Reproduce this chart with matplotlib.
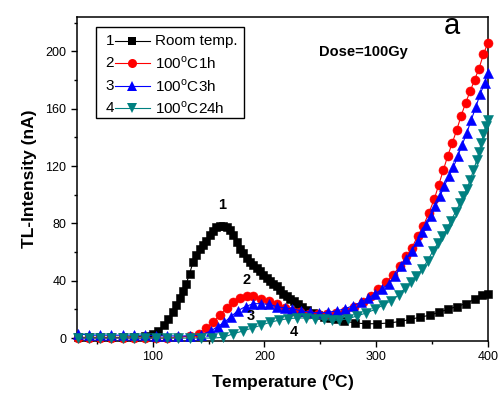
import matplotlib
matplotlib.use("Agg")
import matplotlib.pyplot as plt
from matplotlib.patches import Rectangle
from matplotlib.ticker import MultipleLocator

plt.rcParams['font.family'] = ['Liberation Sans', 'DejaVu Sans']
plt.rcParams['mathtext.fontset'] = 'custom'
plt.rcParams['mathtext.rm'] = 'Liberation Sans'
plt.rcParams['mathtext.bf'] = 'Liberation Sans:bold'

# 1 - room temperature
t_room = [33, 43, 53, 63, 73, 83, 93, 100, 105, 110, 114, 118, 121, 124, 127, 130, 133, 136,
          139, 142, 145, 148, 151, 154, 157, 160, 163, 166, 169, 172, 175, 178, 181, 184, 187,
          190, 193, 196, 199, 202, 205, 208, 211, 214, 217, 220, 223, 226, 230, 234, 238, 243,
          248, 253, 259, 265, 271, 281, 291, 301, 311, 321, 330, 339, 348, 356, 364, 372, 380,
          388, 395, 400]
i_room = [0.5, 0.5, 0.5, 0.5, 0.5, 1, 1.5, 3, 5, 9, 13, 18, 23, 28, 33, 38, 45, 53,
          58, 62, 65, 68, 72, 75, 77.5, 78.5, 78.5, 77.5, 75.5, 72, 67, 62, 59, 56, 53,
          51, 49, 47, 44, 42, 40, 38, 36, 33.5, 31, 29, 27.5, 26, 24, 22, 19.5, 17.5,
          16, 15, 14, 13, 12, 10.5, 10, 10, 10.5, 11.5, 13, 14.5, 16, 18, 20, 22, 24,
          27, 30, 31]

# 2 - 100C 1h
t_1h = [33, 43, 53, 63, 73, 83, 93, 103, 113, 123, 133, 141, 148, 154, 160, 166, 172, 178,
        184, 190, 197, 204, 211, 218, 225, 232, 240, 248, 256, 264, 272, 280, 288, 295, 302,
        309, 315, 321, 327, 332, 337, 342, 347, 352, 356, 360, 364, 368, 372, 376, 380, 384,
        388, 392, 396, 400]
i_1h = [0, 0, 0, 0, 0, 0, 0, 0, 0, 0.5, 1.5, 3, 7, 11, 16, 21, 25, 28,
        29.5, 29, 27.5, 26, 24, 21, 19, 18, 17, 16.5, 16.5, 17.5, 19, 22, 25, 29, 34,
        39, 44, 50, 57, 63, 71, 78, 87, 97, 107, 117, 127, 136, 145, 155, 164, 172,
        180, 188, 198, 206]

# 3 - 100C 3h
t_3h = [33, 43, 53, 63, 73, 83, 93, 103, 113, 123, 133, 143, 152, 158, 164, 170, 176, 183,
        190, 197, 204, 211, 218, 225, 233, 241, 249, 257, 265, 272, 279, 286, 293, 299, 305,
        311, 317, 322, 327, 332, 337, 341, 345, 349, 353, 357, 361, 365, 369, 373, 377, 381,
        385, 389, 393, 397, 400]
i_3h = [3, 2, 2, 2, 2, 2, 2, 1.5, 1.5, 1.5, 1.5, 2, 5, 8, 11, 15, 19, 22,
        24, 24, 23.5, 22, 21, 20.5, 19, 18, 17.5, 18, 19, 20.5, 22.5, 25, 28, 31, 34,
        38, 43, 50, 55, 61, 68, 74, 79, 85, 92, 99, 106, 113, 119, 127, 135, 143,
        152, 161, 170, 178, 185]

# 4 - 100C 24h
t_24h = [33, 43, 53, 63, 73, 83, 93, 103, 113, 123, 133, 143, 153, 163, 172, 181, 189, 197,
         205, 213, 221, 229, 237, 245, 253, 260, 267, 275, 283, 291, 299, 306, 313, 320, 326,
         331, 336, 341, 346, 351, 355, 359, 363, 367, 371, 375, 378, 381, 384, 387, 390, 392,
         394, 396, 398, 400]
i_24h = [0, 0, 0, 0, 0, 0, 0, 0, 0, 0, 0, 0, 0, 0.5, 3, 5, 7, 9,
         11, 12.5, 13.5, 14, 14, 13.5, 13, 12.5, 12.5, 13.5, 15.5, 17.5, 20, 23, 26, 30, 35,
         39, 43, 48, 54, 61, 66, 71, 76, 82, 88, 94, 99, 104, 110, 117, 124, 130,
         136, 142, 148, 152]

series = [
    ("1", "Room temp.", t_room, i_room, "black", "s", 5.5),
    ("2", r"100$^{\mathrm{o}}$C1h", t_1h, i_1h, "#ff0000", "o", 6.5),
    ("3", r"100$^{\mathrm{o}}$C3h", t_3h, i_3h, "#0000ff", "^", 7.0),
    ("4", r"100$^{\mathrm{o}}$C24h", t_24h, i_24h, "#008080", "v", 7.0),
]

# curve number labels (temperature, intensity)
curve_labels = [("1", 162, 93), ("2", 184, 40.5), ("3", 188, 15.5), ("4", 226, 4)]

fig = plt.figure(figsize=(5.02, 4.03), dpi=100)
ax = fig.add_axes([0.153, 0.154, 0.819, 0.804])

for num, lab, t, y, col, mk, ms in series:
    ax.plot(t, y, color=col, marker=mk, markersize=ms, linewidth=0.8,
            markeredgewidth=0.4, markeredgecolor=col, clip_on=False, zorder=3)

ax.set_xlim(32, 400)
ax.set_ylim(-2, 224)
ax.xaxis.set_major_locator(MultipleLocator(100))
ax.xaxis.set_minor_locator(MultipleLocator(50))
ax.yaxis.set_major_locator(MultipleLocator(40))
ax.yaxis.set_minor_locator(MultipleLocator(20))
ax.tick_params(which='both', direction='out', top=False, right=False, width=1.0, labelsize=9)
ax.tick_params(which='major', length=4)
ax.tick_params(which='minor', length=2.5)
for sp in ax.spines.values():
    sp.set_linewidth(1.1)

ax.set_xlabel(r"Temperature ($\mathbf{^o}$C)", fontsize=12.5, fontweight='bold', labelpad=6)
ax.set_ylabel("TL-Intensity (nA)", fontsize=12.5, fontweight='bold', labelpad=6)

ax.text(0.698, 0.892, "Dose=100Gy", transform=ax.transAxes, fontsize=10.5,
        fontweight='bold', ha='center', va='center')
ax.text(0.912, 0.972, "a", transform=ax.transAxes, fontsize=21, ha='center', va='center')

for num, x, y in curve_labels:
    ax.text(x, y, num, fontsize=10.5, fontweight='bold', ha='center', va='center')

# hand-made legend with leading numbers
def fx(px):
    return (px - 77) / 411.0

def fy(py):
    return (341 - py) / 324.0

ax.add_patch(Rectangle((fx(96), fy(118)), fx(244) - fx(96), fy(27) - fy(118),
                       transform=ax.transAxes, fill=True, facecolor='white',
                       edgecolor='black', linewidth=1.0, zorder=5))
rows = [40.7, 63.3, 86, 108.3]
for (num, lab, t, y, col, mk, ms), ry in zip(series, rows):
    ax.text(fx(110), fy(ry), num, transform=ax.transAxes, fontsize=11,
            ha='center', va='center', zorder=6)
    ax.plot([fx(115), fx(150)], [fy(ry), fy(ry)], color=col, linewidth=0.8,
            transform=ax.transAxes, zorder=6, clip_on=False)
    ax.plot([fx(132)], [fy(ry)], color=col, marker=mk, markersize=ms, markeredgewidth=0,
            transform=ax.transAxes, zorder=6, clip_on=False)
    ax.text(fx(155), fy(ry), lab, transform=ax.transAxes, fontsize=11,
            ha='left', va='center', zorder=6)

fig.savefig("out.png", dpi=100)
